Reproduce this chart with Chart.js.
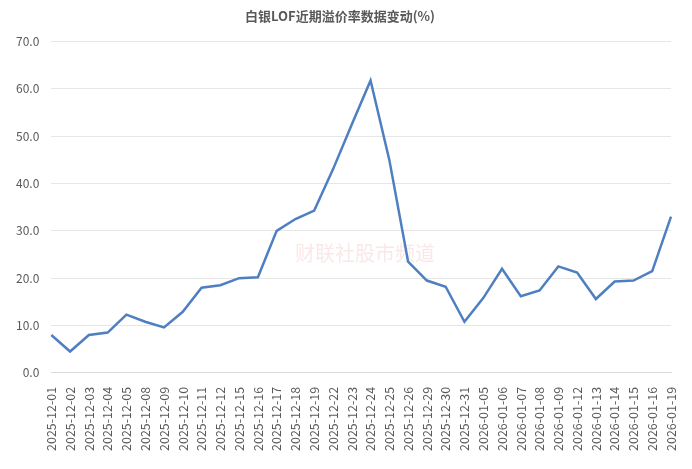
<!DOCTYPE html>
<html><head><meta charset="utf-8">
<script src="https://cdn.jsdelivr.net/npm/chart.js@4"></script>
<style>body{margin:0;background:#fff}#wrap{width:692px;height:469px}</style>
</head><body><div id="wrap"><canvas id="c"></canvas></div>
<script>
const dates = ['2025-12-01','2025-12-02','2025-12-03','2025-12-04','2025-12-05','2025-12-08','2025-12-09','2025-12-10','2025-12-11','2025-12-12','2025-12-15','2025-12-16','2025-12-17','2025-12-18','2025-12-19','2025-12-22','2025-12-23','2025-12-24','2025-12-25','2025-12-26','2025-12-29','2025-12-30','2025-12-31','2026-01-05','2026-01-06','2026-01-07','2026-01-08','2026-01-09','2026-01-12','2026-01-13','2026-01-14','2026-01-15','2026-01-16','2026-01-19'];
const premium = [8.0,4.5,8.0,8.5,12.3,10.8,9.6,12.9,18.0,18.5,20.0,20.2,30.0,32.5,34.3,43.0,52.5,61.8,45.0,23.5,19.5,18.2,10.8,15.8,22.0,16.2,17.4,22.5,21.2,15.6,19.3,19.5,21.5,33.0];

// Faint watermark in the middle of the plot
const watermark = {
    id: 'watermark',
    beforeDatasetsDraw(chart) {
        const { ctx } = chart;
        ctx.save();
        ctx.fillStyle = 'rgba(230,120,120,0.18)';
        ctx.font = '20px "Noto Sans CJK SC"';
        ctx.textAlign = 'center';
        ctx.textBaseline = 'middle';
        ctx.fillText('财联社股市频道', 365, 253);
        ctx.restore();
    }
};

new Chart(document.getElementById('c').getContext('2d'), {
    type: 'line',
    data: {
        labels: dates,
        datasets: [{
            data: premium,
            borderColor: '#4e7fc0',
            borderWidth: 2.5,
            pointRadius: 0,
            tension: 0,
            fill: false
        }]
    },
    options: {
        responsive: true,
        maintainAspectRatio: false,
        animation: false,
        layout: { padding: { left: 4, right: 16, top: 6, bottom: 12 } },
        scales: {
            y: {
                min: 0, max: 70,
                ticks: { stepSize: 10, padding: 12, callback: v => v.toFixed(1), color: '#595959', font: { size: 12, family: '"Noto Sans CJK SC"' } },
                grid: { color: '#e6e6e6', drawTicks: false },
                border: { display: false }
            },
            x: {
                ticks: { maxRotation: 90, minRotation: 90, autoSkip: false, padding: 6, color: '#595959', font: { size: 12.5, family: '"Noto Sans CJK SC"' } },
                grid: { display: false },
                border: { color: '#d9d9d9' }
            }
        },
        plugins: {
            legend: { display: false },
            tooltip: { enabled: false },
            title: { display: true, text: '白银LOF近期溢价率数据变动(%)', color: '#595959', font: { size: 13, weight: 'bold', family: '"Noto Sans CJK SC"' }, padding: { top: 2, bottom: 18 } }
        }
    },
    plugins: [watermark]
});
</script></body></html>
